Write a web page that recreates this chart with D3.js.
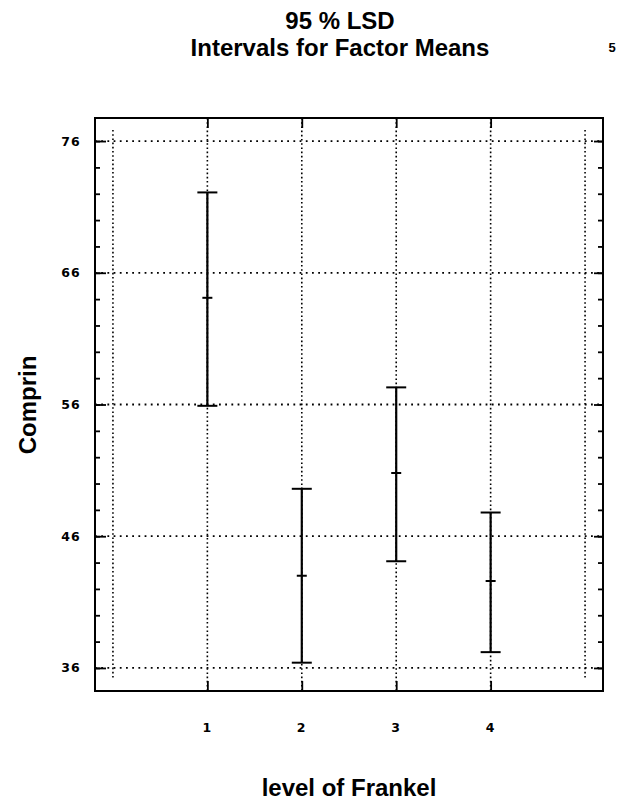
<!DOCTYPE html>
<html>
<head>
<meta charset="utf-8">
<script src="https://cdn.jsdelivr.net/npm/d3@7"></script>
<style>
  body { margin: 0; background: #fff; }
  svg { display: block; }
  .lbl { font-family: "Liberation Sans", Arial, sans-serif; font-weight: bold; fill: #000; }
  .tick-lbl { font-family: "DejaVu Sans", sans-serif; font-weight: bold; font-size: 12.5px; letter-spacing: 1.2px; fill: #000; }
</style>
</head>
<body>
<div id="chart"></div>
<script>
// data
var levels = [1, 2, 3, 4];
var means  = [64.1, 43.0, 50.8, 42.6];
var lower  = [55.9, 36.4, 44.1, 37.2];
var upper  = [72.1, 49.6, 57.3, 47.8];
var yTicks = [36, 46, 56, 66, 76];
var xTickLabels = ["1", "2", "3", "4"];

var W = 621, H = 804;
var margin = {top: 118, right: 18, bottom: 113, left: 95},
    width = W - margin.left - margin.right,
    height = H - margin.top - margin.bottom;

var svg = d3.select("#chart").append("svg")
    .attr("width", W)
    .attr("height", H);

var g = svg.append("g")
    .attr("transform", "translate(" + margin.left + "," + margin.top + ")");

var x = d3.scaleLinear().domain([-0.19, 5.19]).range([0, width]);
var y = d3.scaleLinear().domain([34.25, 77.75]).range([height, 0]);

// dotted grid, horizontal
g.append("g").selectAll("line")
  .data(yTicks)
  .enter().append("line")
    .attr("x1", 0).attr("x2", width)
    .attr("y1", d => y(d)).attr("y2", d => y(d))
    .attr("stroke", "#000")
    .attr("stroke-width", 1.8)
    .attr("stroke-dasharray", "1.8,4.4");

// dotted grid, vertical (0 and 5 are shorter)
var vlines = [0, 1, 2, 3, 4, 5];
g.append("g").selectAll("line")
  .data(vlines)
  .enter().append("line")
    .attr("x1", d => x(d)).attr("x2", d => x(d))
    .attr("y1", d => (d === 0 || d === 5) ? 12 : 0)
    .attr("y2", d => (d === 0 || d === 5) ? height - 11 : height)
    .attr("stroke", "#000")
    .attr("stroke-width", 1.6)
    .attr("stroke-dasharray", "1.6,2.6");

// y axis, left & right, inward ticks
var yMinor = d3.range(36, 77, 2);
g.append("g")
  .call(d3.axisRight(y).tickValues(yMinor).tickSize(5).tickFormat(""))
  .call(a => a.select(".domain").remove());
g.append("g")
  .call(d3.axisRight(y).tickValues(yTicks).tickSize(11).tickFormat(""))
  .call(a => a.select(".domain").remove());
g.append("g")
  .attr("transform", "translate(" + width + ",0)")
  .call(d3.axisLeft(y).tickValues(yMinor).tickSize(5).tickFormat(""))
  .call(a => a.select(".domain").remove());
g.append("g")
  .attr("transform", "translate(" + width + ",0)")
  .call(d3.axisLeft(y).tickValues(yTicks).tickSize(9).tickFormat(""))
  .call(a => a.select(".domain").remove());

// x ticks top & bottom
g.append("g")
  .attr("transform", "translate(0," + height + ")")
  .call(d3.axisTop(x).tickValues(levels).tickSize(10).tickFormat(""))
  .call(a => a.select(".domain").remove());
g.append("g")
  .call(d3.axisBottom(x).tickValues(levels).tickSize(10).tickFormat(""))
  .call(a => a.select(".domain").remove());

g.selectAll(".tick line").attr("stroke", "#000").attr("stroke-width", 1.8);

// frame
g.append("rect")
  .attr("width", width).attr("height", height)
  .attr("fill", "none")
  .attr("stroke", "#000")
  .attr("stroke-width", 2);

// tick labels
g.append("g").selectAll("text")
  .data(yTicks)
  .enter().append("text")
    .attr("class", "tick-lbl")
    .attr("x", -14)
    .attr("y", d => y(d))
    .attr("dy", "0.36em")
    .attr("text-anchor", "end")
    .text(d => d);

g.append("g").selectAll("text")
  .data(levels)
  .enter().append("text")
    .attr("class", "tick-lbl")
    .attr("x", d => x(d))
    .attr("y", height + 41)
    .attr("text-anchor", "middle")
    .text((d, i) => xTickLabels[i]);

// LSD intervals
var bars = g.append("g").selectAll("g")
  .data(levels)
  .enter().append("g");

bars.append("line")
  .attr("x1", d => x(d)).attr("x2", d => x(d))
  .attr("y1", (d, i) => y(lower[i])).attr("y2", (d, i) => y(upper[i]))
  .attr("stroke", "#000").attr("stroke-width", 2.2);
bars.append("line")
  .attr("x1", d => x(d) - 10).attr("x2", d => x(d) + 10)
  .attr("y1", (d, i) => y(upper[i])).attr("y2", (d, i) => y(upper[i]))
  .attr("stroke", "#000").attr("stroke-width", 2);
bars.append("line")
  .attr("x1", d => x(d) - 10).attr("x2", d => x(d) + 10)
  .attr("y1", (d, i) => y(lower[i])).attr("y2", (d, i) => y(lower[i]))
  .attr("stroke", "#000").attr("stroke-width", 2);
bars.append("line")
  .attr("x1", d => x(d) - 5).attr("x2", d => x(d) + 5)
  .attr("y1", (d, i) => y(means[i])).attr("y2", (d, i) => y(means[i]))
  .attr("stroke", "#000").attr("stroke-width", 2);

// titles and axis labels
svg.append("text").attr("class", "lbl")
  .attr("x", 340).attr("y", 29)
  .attr("text-anchor", "middle")
  .style("font-size", "24px")
  .text("95 % LSD");
svg.append("text").attr("class", "lbl")
  .attr("x", 340).attr("y", 56)
  .attr("text-anchor", "middle")
  .style("font-size", "24px")
  .text("Intervals for Factor Means");
svg.append("text").attr("class", "lbl")
  .attr("x", 612).attr("y", 52)
  .attr("text-anchor", "middle")
  .style("font-size", "13px")
  .text("5");

svg.append("text").attr("class", "lbl")
  .attr("transform", "translate(36,405) rotate(-90)")
  .attr("text-anchor", "middle")
  .style("font-size", "24px")
  .text("Comprin");

svg.append("text").attr("class", "lbl")
  .attr("x", 349).attr("y", 796)
  .attr("text-anchor", "middle")
  .style("font-size", "24px")
  .text("level of Frankel");
</script>
</body>
</html>
